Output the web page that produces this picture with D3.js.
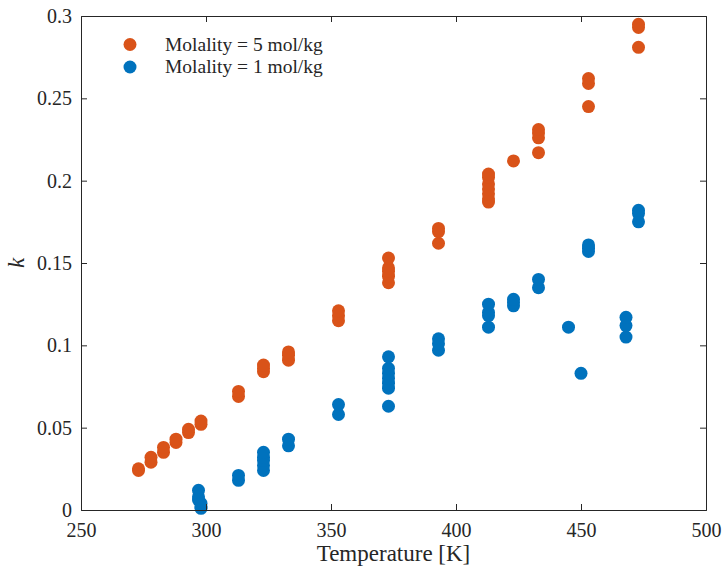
<!DOCTYPE html>
<html>
<head>
<meta charset="utf-8">
<script src="https://cdn.jsdelivr.net/npm/d3@7/dist/d3.min.js"></script>
<style>
  html, body { margin: 0; padding: 0; background: #fff; }
  svg { display: block; }
  text { font-family: "Liberation Serif", "DejaVu Serif", serif; fill: #262626; }
</style>
</head>
<body>
<script>
// ---- Data ----
const seriesNames = ["Molality = 5 mol/kg", "Molality = 1 mol/kg"];
const seriesColors = ["#D95319", "#0072BD"];

// Molality = 5 mol/kg : temperature [K] and k
const temp5 = [273,273,278,278,283,283,288,288,293,293,298,298,
               313,313,323,323,323,333,333,333,353,353,353,
               373,373,373,373,373,393,393,393,
               413,413,413,413,413,413,413,423,433,433,433,433,
               453,453,453,473,473,473];
const k5    = [0.024,0.025,0.029,0.032,0.035,0.038,0.041,0.043,0.047,0.049,0.052,0.054,
               0.069,0.072,0.084,0.086,0.088,0.091,0.094,0.096,0.115,0.118,0.121,
               0.138,0.142,0.145,0.147,0.153,0.162,0.169,0.171,
               0.187,0.189,0.192,0.195,0.198,0.202,0.204,0.212,0.217,0.226,0.229,0.231,
               0.245,0.259,0.262,0.281,0.293,0.295];

// Molality = 1 mol/kg : temperature [K] and k
const temp1 = [297,297,297,298,298,298,313,313,
               323,323,323,323,323,333,333,353,353,
               373,373,373,373,373,373,373,393,393,393,
               413,413,413,413,423,423,423,433,433,445,450,
               453,453,453,468,468,468,473,473,473];
const k1    = [0.012,0.008,0.006,0.004,0.002,0.001,0.018,0.021,
               0.024,0.027,0.030,0.032,0.035,0.039,0.043,0.058,0.064,
               0.063,0.074,0.077,0.080,0.083,0.086,0.093,0.097,0.101,0.104,
               0.111,0.118,0.120,0.125,0.124,0.126,0.128,0.135,0.140,0.111,0.083,
               0.157,0.159,0.161,0.105,0.112,0.117,0.175,0.180,0.182];

const xTicks = [250, 300, 350, 400, 450, 500];
const yTicks = [0, 0.05, 0.1, 0.15, 0.2, 0.25, 0.3];
const xLabel = "Temperature [K]";
const yLabel = "k";

// ---- Layout ----
const W = 723, H = 571;
const m = { left: 81, right: 17, top: 16, bottom: 61 };

const svg = d3.select("body").append("svg").attr("width", W).attr("height", H);

const x = d3.scaleLinear().domain([250, 500]).range([m.left, W - m.right]);
const y = d3.scaleLinear().domain([0, 0.3]).range([H - m.bottom, m.top]);

const axisColor = "#262626";
const tickLen = 6;

// Points
const sets = [
  { t: temp5, k: k5, c: seriesColors[0] },
  { t: temp1, k: k1, c: seriesColors[1] }
];
sets.forEach(s => {
  svg.append("g").selectAll("circle")
    .data(s.t.map((t, i) => [t, s.k[i]]))
    .join("circle")
    .attr("cx", d => x(d[0]))
    .attr("cy", d => y(d[1]))
    .attr("r", 6.5)
    .attr("fill", s.c);
});

// Axes
const fmt = d => String(+d.toFixed(2));
const gx = svg.append("g").attr("transform", `translate(0,${y(0)})`)
  .call(d3.axisBottom(x).tickValues(xTicks).tickSize(-tickLen).tickPadding(13).tickFormat(d3.format("d")));
const gxTop = svg.append("g").attr("transform", `translate(0,${y(0.3)})`)
  .call(d3.axisTop(x).tickValues(xTicks).tickSize(-tickLen).tickFormat(""));
const gy = svg.append("g").attr("transform", `translate(${x(250)},0)`)
  .call(d3.axisLeft(y).tickValues(yTicks).tickSize(-tickLen).tickPadding(9).tickFormat(fmt));
const gyR = svg.append("g").attr("transform", `translate(${x(500)},0)`)
  .call(d3.axisRight(y).tickValues(yTicks).tickSize(-tickLen).tickFormat(""));

[gx, gxTop, gy, gyR].forEach(g => {
  g.attr("font-family", null);
  g.select(".domain").attr("stroke", axisColor).attr("stroke-width", 1);
  g.selectAll(".tick line").attr("stroke", axisColor).attr("stroke-width", 1);
  g.selectAll(".tick text").attr("font-size", 20).attr("fill", axisColor);
});
gx.selectAll(".tick").filter(d => d === 250 || d === 500).select("line").remove();
gy.selectAll(".tick").filter(d => d === 0 || d === 0.3).select("line").remove();
gxTop.selectAll(".tick").filter(d => d === 250 || d === 500).select("line").remove();
gyR.selectAll(".tick").filter(d => d === 0 || d === 0.3).select("line").remove();

// Axis labels
svg.append("text")
  .attr("x", (x(250) + x(500)) / 2).attr("y", 561)
  .attr("text-anchor", "middle").attr("font-size", 23)
  .text(xLabel);
svg.append("text")
  .attr("transform", `translate(24,${(y(0) + y(0.3)) / 2}) rotate(-90)`)
  .attr("text-anchor", "middle").attr("font-size", 23).attr("font-style", "italic")
  .text(yLabel);

// Legend
const lg = svg.append("g");
seriesNames.forEach((name, i) => {
  const cy = 44.5 + i * 22.5;
  lg.append("circle").attr("cx", 130).attr("cy", cy).attr("r", 6.5).attr("fill", seriesColors[i]);
  lg.append("text").attr("x", 165).attr("y", cy + 6).attr("font-size", 19.5).text(name);
});
</script>
</body>
</html>
